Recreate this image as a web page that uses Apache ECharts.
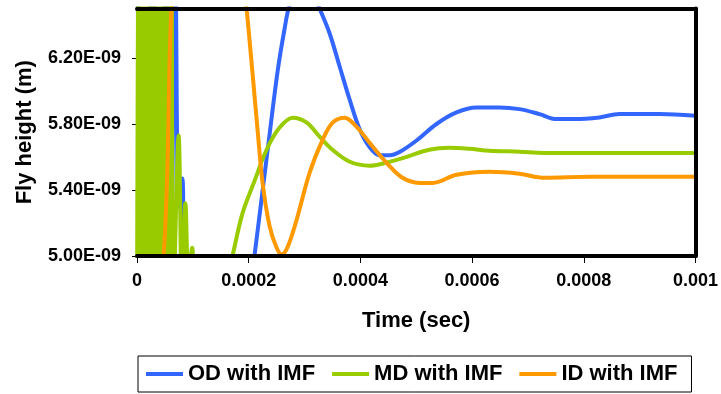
<!DOCTYPE html>
<html>
<head>
<meta charset="utf-8">
<script src="https://cdn.jsdelivr.net/npm/echarts@6/dist/echarts.min.js"></script>
<style>
  html, body { margin: 0; padding: 0; background: #fff; }
  #chart { width: 721px; height: 394px; }
</style>
</head>
<body>
<div id="chart"></div>
<script>
// Fly height response of the slider for three disk positions with IMF.
// Time in microseconds, fly height in nanometres (converted to s and m below).

const xTickLabels = ['0', '0.0002', '0.0004', '0.0006', '0.0008', '0.001'];
const yTickLabels = ['5.00E-09', '5.40E-09', '5.80E-09', '6.20E-09'];
const seriesNames = ['OD with IMF', 'MD with IMF', 'ID with IMF'];

const odTimeUs = [0, 13.8, 28.1, 42.4, 51.4, 60.3, 68.4, 74.6, 80.9, 87.2, 121.2, 162.3, 198.1,
  210.7, 223.2, 237.5, 251.8, 264.4, 273.3, 300, 326.9, 344.8, 362.7, 380.6, 398.5, 416.4, 434.3,
  452.2, 470.1, 500.5, 536.3, 572.1, 607.9, 631.1, 649, 684.8, 720.6, 751, 783.2, 828, 863.8,
  935.4, 1000];
const odHeightNm = [6.9, 4.6, 6.9, 4.6, 6.9, 4.7, 6.9, 5.30, 5.47, 4.8, 4.45, 4.35, 4.68,
  5.01, 5.35, 5.74, 6.12, 6.38, 6.52, 6.72, 6.5, 6.35, 6.15, 5.95, 5.77, 5.66, 5.61,
  5.61, 5.63, 5.70, 5.80, 5.87, 5.90, 5.90, 5.90, 5.89, 5.86, 5.83, 5.83, 5.84, 5.86,
  5.86, 5.85];

const mdTimeUs = [0, 2.7, 5.4, 8.1, 10.8, 13.5, 16.2, 18.9, 21.6, 24.3, 27.0, 29.7, 32.4, 35.1,
  37.8, 40.5, 43.2, 45.9, 48.6, 51.3, 54.0, 56.7, 59.4, 62.1, 64.8,
  74.6, 80.5, 86.6, 92.5, 98.8, 105, 130, 157, 171, 189, 211, 232, 255, 279, 304, 327, 350,
  381, 416, 446, 483, 523, 559, 595, 631, 685, 729, 828, 1000];
const mdHeightNm = [4.62, 6.95, 4.58, 7.02, 4.65, 6.98, 4.60, 7.05, 4.63, 6.96, 4.57, 7.00,
  4.66, 6.94, 4.61, 7.03, 4.59, 6.97, 4.64, 7.01, 4.60, 6.93, 4.67, 6.90, 4.62,
  5.73, 4.75, 5.32, 4.80, 5.05, 4.85, 4.72, 4.80, 5.00, 5.26, 5.46, 5.644, 5.777, 5.838,
  5.808, 5.723, 5.644, 5.571, 5.547, 5.565, 5.601, 5.644, 5.656, 5.650, 5.638, 5.632,
  5.625, 5.625, 5.625];

const idTimeUs = [0, 47.5, 61.5, 85.4, 121, 157, 184, 196.3, 207.1, 216, 225, 237.5, 250, 259,
  269.7, 285.8, 309, 332.4, 350.3, 371.8, 393.2, 416.5, 446.9, 475.5, 506, 529.3, 572.2,
  631.3, 685, 729.8, 810.3, 1000];
const idHeightNm = [3.5, 5.0, 6.5, 7.9, 8.4, 7.9, 6.96, 6.5, 6.10, 5.76, 5.44, 5.18, 5.05,
  5.01, 5.055, 5.219, 5.504, 5.704, 5.808, 5.838, 5.783, 5.686, 5.565, 5.474, 5.443, 5.443,
  5.492, 5.510, 5.498, 5.474, 5.480, 5.480];

const colors = ['#3366FF', '#99CC00', '#FF9900'];

function toPairs(timeUs, heightNm) {
  return timeUs.map((t, i) => [t * 1e-6, heightNm[i] * 1e-9]);
}

const FONT = "'Liberation Sans', Arial, sans-serif";
const labelStyle = { color: '#000', fontWeight: 'bold', fontSize: 18, fontFamily: FONT };
const titleStyle = { color: '#000', fontWeight: 'bold', fontSize: 22, fontFamily: FONT };

const chart = echarts.init(document.getElementById('chart'), null, { renderer: 'canvas' });

const frameLine = { lineStyle: { color: '#000', width: 4 } };

chart.setOption({
  animation: false,
  backgroundColor: '#fff',
  color: colors,
  grid: { left: 137, right: 25, top: 8.5, bottom: 138, containLabel: false },
  legend: {
    left: 138, top: 356,
    orient: 'horizontal',
    padding: [7, 14, 7, 8],
    itemGap: 17, itemWidth: 37, itemHeight: 4,
    icon: 'rect',
    borderColor: '#000', borderWidth: 1,
    textStyle: Object.assign({}, titleStyle),
    data: seriesNames
  },
  xAxis: [
    {
      type: 'value', position: 'bottom', min: 0, max: 0.001, interval: 0.0002, z: 5,
      axisLine: { onZero: false, lineStyle: { color: '#000', width: 4 } },
      axisTick: { length: 7, lineStyle: { color: '#000', width: 1 } },
      axisLabel: Object.assign({
        margin: 16,
        formatter: v => xTickLabels[Math.round(v / 0.0002)] || ''
      }, labelStyle),
      splitLine: { show: false },
      name: 'Time (sec)', nameLocation: 'middle', nameGap: 54,
      nameTextStyle: titleStyle
    },
    {
      type: 'value', position: 'top', min: 0, max: 0.001, z: 5,
      axisLine: Object.assign({ onZero: false }, frameLine),
      axisTick: { show: false }, axisLabel: { show: false }, splitLine: { show: false }
    }
  ],
  yAxis: [
    {
      type: 'value', position: 'left', min: 5.0e-9, max: 6.5e-9, interval: 0.4e-9,
      axisLine: { onZero: false, lineStyle: { color: '#222', width: 1 } },
      axisTick: { length: 5, lineStyle: { color: '#000', width: 1 } },
      axisLabel: Object.assign({
        margin: 16, showMaxLabel: false,
        formatter: v => {
          const k = Math.round((v - 5.0e-9) / 0.4e-9);
          return Math.abs(v - (5.0e-9 + k * 0.4e-9)) < 1e-12 ? (yTickLabels[k] || '') : '';
        }
      }, labelStyle),
      splitLine: { show: false },
      name: 'Fly height (m)', nameLocation: 'middle', nameGap: 101,
      nameTextStyle: titleStyle
    },
    {
      type: 'value', position: 'right', min: 5.0e-9, max: 6.5e-9, z: 5,
      axisLine: Object.assign({ onZero: false }, frameLine),
      axisTick: { show: false }, axisLabel: { show: false }, splitLine: { show: false }
    }
  ],
  series: [
    { name: seriesNames[0], data: toPairs(odTimeUs, odHeightNm) },
    { name: seriesNames[1], data: toPairs(mdTimeUs, mdHeightNm) },
    { name: seriesNames[2], data: toPairs(idTimeUs, idHeightNm) }
  ].map((s, i) => Object.assign({
    type: 'line', xAxisIndex: 0, yAxisIndex: 0,
    showSymbol: false, symbol: 'none', smooth: 0.35, clip: true,
    lineStyle: { color: colors[i], width: 4 },
    itemStyle: { color: colors[i] }
  }, s))
});
</script>
</body>
</html>
